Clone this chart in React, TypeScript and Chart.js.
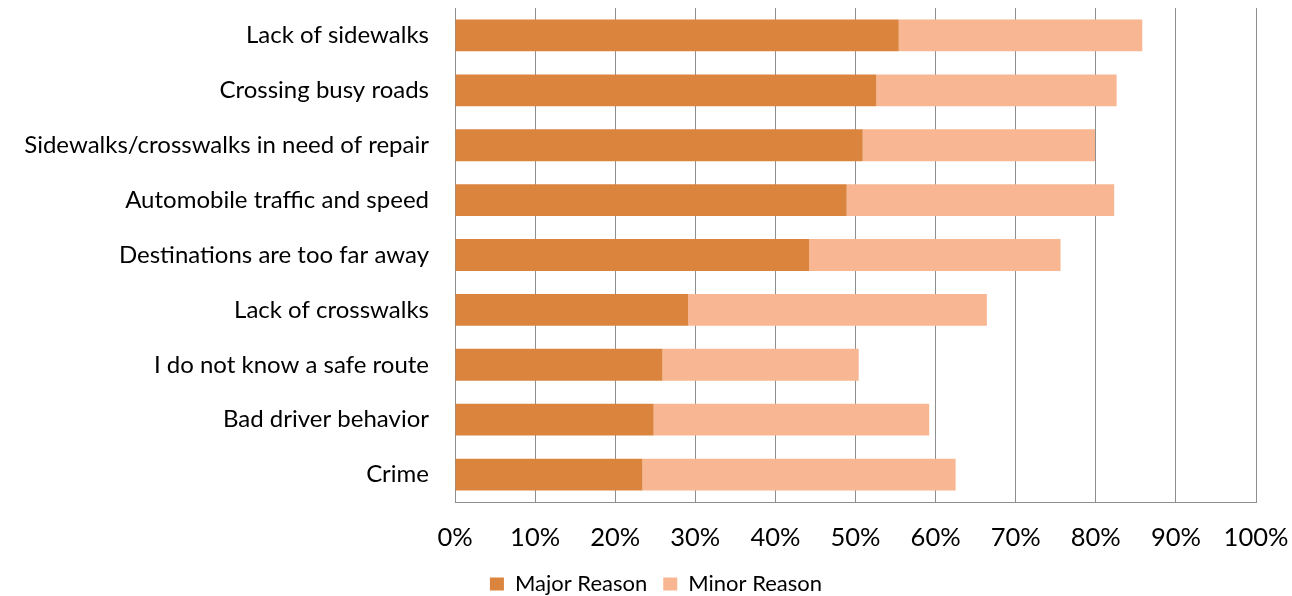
import React, { useEffect, useRef } from "react";
import { Chart, registerables } from "chart.js";

Chart.register(...registerables);

const categories = [
  "Lack of sidewalks",
  "Crossing busy roads",
  "Sidewalks/crosswalks in need of repair",
  "Automobile traffic and speed",
  "Destinations are too far away",
  "Lack of crosswalks",
  "I do not know a safe route",
  "Bad driver behavior",
  "Crime",
];

const majorReason = [55.4, 52.6, 50.9, 48.9, 44.2, 29.1, 25.9, 24.8, 23.4];
const minorReason = [30.4, 30.0, 29.0, 33.4, 31.4, 37.3, 24.5, 34.4, 39.1];

const seriesLabels = ["Major Reason", "Minor Reason"];
const xTickValues = [0, 10, 20, 30, 40, 50, 60, 70, 80, 90, 100];

const FONT = "Lato, 'DejaVu Sans', sans-serif";
const GRID = "#8e8e8e";

const legendShift = {
  id: "legendShift",
  afterLayout(chart: any) {
    const lg = chart.legend;
    if (lg) {
      lg.left += 28;
      lg.right += 28;
    }
  },
};

export default function App() {
  const ref = useRef<HTMLCanvasElement | null>(null);

  useEffect(() => {
    if (!ref.current) return;
    const chart = new Chart(ref.current, {
      type: "bar",
      data: {
        labels: categories,
        datasets: [
          {
            label: seriesLabels[0],
            data: majorReason,
            backgroundColor: "#DB843E",
            barPercentage: 0.58,
            categoryPercentage: 1,
          },
          {
            label: seriesLabels[1],
            data: minorReason,
            backgroundColor: "#F8B692",
            barPercentage: 0.58,
            categoryPercentage: 1,
          },
        ],
      },
      options: {
        indexAxis: "y",
        animation: false,
        responsive: true,
        maintainAspectRatio: false,
        layout: { padding: { top: 8, right: 36, left: 0, bottom: -9 } },
        plugins: {
          tooltip: { enabled: false },
          legend: {
            position: "bottom",
            labels: {
              boxWidth: 14,
              boxHeight: 13,
              padding: 16,
              color: "#000",
              font: { family: FONT, size: 22 },
            },
          },
        },
        scales: {
          x: {
            stacked: true,
            min: 0,
            max: 100,
            afterBuildTicks: (scale: any) => {
              scale.ticks = xTickValues.map((v) => ({ value: v }));
            },
            afterFit: (scale: any) => {
              scale.height = 55;
            },
            grid: {
              color: GRID,
              lineWidth: 1,
              drawTicks: true,
              tickLength: 20,
              tickColor: "rgba(0,0,0,0)",
            },
            border: { display: true, color: GRID, width: 1 },
            ticks: {
              color: "#000",
              padding: 0,
              font: { family: FONT, size: 25.5 },
              callback: (v: any) => v + "%",
            },
          },
          y: {
            stacked: true,
            grid: { display: false, drawTicks: true, tickLength: 26 },
            border: { display: true, color: GRID, width: 1 },
            afterFit: (scale: any) => {
              scale.width = 455;
            },
            ticks: {
              color: "#000",
              padding: 0,
              font: { family: FONT, size: 24, lineHeight: 0.6 },
            },
          },
        },
      },
      plugins: [legendShift],
    });
    return () => chart.destroy();
  }, []);

  return (
    <div style={{ position: "absolute", left: 0, top: 0, width: 1292, height: 596, background: "#fff" }}>
      <canvas ref={ref} />
    </div>
  );
}
